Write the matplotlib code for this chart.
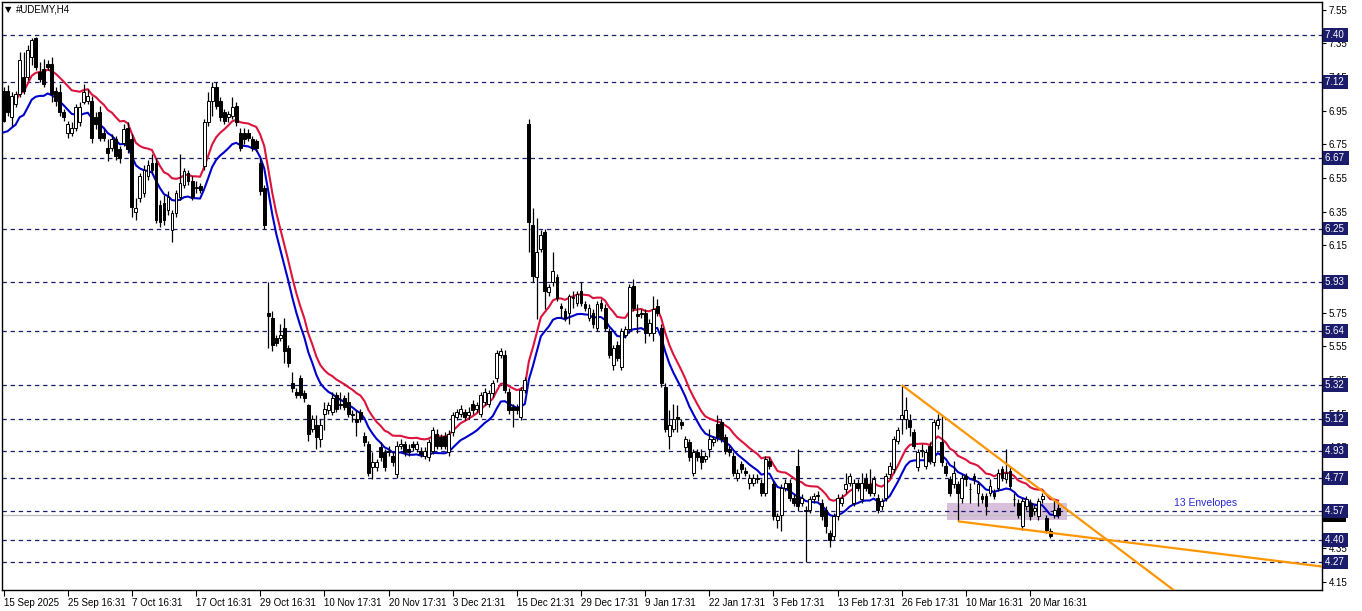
import matplotlib
matplotlib.use("Agg")
import matplotlib.pyplot as plt
import matplotlib.transforms as mtransforms
from matplotlib.patches import Rectangle
import numpy as np
import pandas as pd

plt.rcParams["font.family"] = ["Liberation Sans", "DejaVu Sans"]

# ---------------- data (H4 candles, #UDEMY) ----------------
opens = [
    7.07, 7.07, 6.91, 6.99, 7.05, 7.15, 7.15, 7.27, 7.38, 7.18,
    7.20, 7.23, 7.23, 7.07, 7.06, 6.94, 6.82, 6.82, 6.85, 6.88,
    7.00, 7.01, 7.01, 6.91, 6.94, 6.82, 6.73, 6.73, 6.78, 6.72,
    6.76, 6.85, 6.78, 6.35, 6.43, 6.46, 6.56, 6.64, 6.64, 6.39,
    6.40, 6.36, 6.24, 6.34, 6.44, 6.51, 6.58, 6.53, 6.49, 6.50,
    6.62, 6.88, 7.01, 7.09, 7.01, 6.94, 6.91, 6.92, 6.98, 6.82,
    6.82, 6.82, 6.78, 6.77, 6.64, 6.49, 5.75, 5.72, 5.60, 5.60,
    5.66, 5.54, 5.33, 5.28, 5.36, 5.27, 5.20, 5.06, 5.08, 5.00,
    5.15, 5.17, 5.16, 5.26, 5.21, 5.24, 5.22, 5.14, 5.12, 5.16,
    5.02, 4.97, 4.83, 4.83, 4.95, 4.92, 4.93, 4.90, 4.79, 4.96,
    4.97, 4.94, 4.97, 4.94, 4.93, 4.90, 4.89, 4.93, 5.03, 5.01,
    5.02, 4.92, 5.04, 5.13, 5.15, 5.16, 5.14, 5.21, 5.18, 5.15,
    5.22, 5.21, 5.27, 5.36, 5.50, 5.50, 5.28, 5.19, 5.19, 5.13,
    5.29, 6.87, 6.27, 5.96, 6.13, 6.23, 5.87, 5.93, 5.96, 5.79,
    5.76, 5.75, 5.84, 5.81, 5.88, 5.80, 5.72, 5.75, 5.66, 5.81,
    5.78, 5.64, 5.44, 5.56, 5.43, 5.62, 5.65, 5.91, 5.74, 5.75,
    5.75, 5.63, 5.63, 5.79, 5.66, 5.31, 5.02, 5.06, 5.13, 5.10,
    4.95, 4.98, 4.80, 4.92, 4.90, 4.88, 4.94, 4.98, 5.09, 5.10,
    5.01, 4.94, 4.90, 4.77, 4.85, 4.81, 4.74, 4.74, 4.77, 4.74,
    4.68, 4.87, 4.73, 4.52, 4.55, 4.71, 4.74, 4.65, 4.84, 4.62,
    4.58, 4.58, 4.64, 4.66, 4.62, 4.58, 4.44, 4.42, 4.54, 4.62,
    4.70, 4.74, 4.62, 4.74, 4.64, 4.76, 4.73, 4.68, 4.65, 4.60,
    4.65, 4.79, 4.82, 4.99, 5.12, 5.12, 5.11, 5.04, 4.83, 4.93,
    4.84, 4.96, 4.86, 5.08, 4.98, 4.84, 4.76, 4.73, 4.73, 4.65,
    4.78, 4.70, 4.78, 4.68, 4.66, 4.66, 4.68, 4.68, 4.71, 4.82,
    4.76, 4.81, 4.64, 4.62, 4.48, 4.60, 4.62, 4.57, 4.54, 4.64,
    4.53, 4.45, 4.55, 4.59,
]
highs = [
    7.09, 7.10, 7.06, 7.07, 7.30, 7.30, 7.34, 7.38, 7.39, 7.24,
    7.26, 7.25, 7.27, 7.09, 7.11, 6.96, 6.89, 6.88, 6.99, 7.00,
    7.11, 7.08, 7.04, 6.94, 6.98, 6.84, 6.78, 6.81, 6.80, 6.74,
    6.87, 6.88, 6.81, 6.43, 6.58, 6.63, 6.66, 6.69, 6.67, 6.42,
    6.45, 6.47, 6.36, 6.48, 6.69, 6.61, 6.60, 6.56, 6.53, 6.52,
    6.90, 7.06, 7.12, 7.12, 7.03, 6.96, 6.95, 7.03, 7.00, 6.85,
    6.85, 6.84, 6.80, 6.78, 6.67, 6.51, 5.93, 5.76, 5.62, 5.68,
    5.72, 5.56, 5.40, 5.30, 5.38, 5.29, 5.21, 5.14, 5.14, 5.12,
    5.22, 5.22, 5.28, 5.28, 5.28, 5.26, 5.28, 5.17, 5.17, 5.18,
    5.04, 4.99, 4.92, 4.88, 4.98, 4.94, 4.96, 4.92, 4.99, 5.00,
    4.99, 4.97, 4.99, 4.99, 4.95, 4.95, 5.00, 5.07, 5.06, 5.03,
    5.04, 5.05, 5.16, 5.18, 5.20, 5.18, 5.19, 5.23, 5.22, 5.28,
    5.30, 5.29, 5.35, 5.53, 5.54, 5.53, 5.30, 5.21, 5.21, 5.31,
    5.37, 6.90, 6.37, 6.31, 6.24, 6.25, 5.92, 6.11, 5.98, 5.81,
    5.78, 5.86, 5.88, 5.88, 5.93, 5.82, 5.80, 5.77, 5.82, 5.83,
    5.80, 5.66, 5.56, 5.58, 5.66, 5.67, 5.92, 5.95, 5.80, 5.77,
    5.77, 5.71, 5.85, 5.83, 5.68, 5.33, 5.17, 5.21, 5.20, 5.12,
    5.02, 5.00, 4.94, 4.94, 4.94, 4.92, 5.06, 5.02, 5.14, 5.12,
    5.03, 4.96, 4.92, 4.82, 4.87, 4.83, 4.79, 4.79, 4.79, 4.76,
    4.90, 4.89, 4.75, 4.56, 4.73, 4.76, 4.76, 4.67, 4.94, 4.67,
    4.60, 4.66, 4.68, 4.69, 4.64, 4.60, 4.46, 4.56, 4.67, 4.67,
    4.80, 4.80, 4.76, 4.76, 4.80, 4.80, 4.82, 4.78, 4.67, 4.65,
    4.80, 4.86, 5.02, 5.07, 5.32, 5.25, 5.15, 5.06, 4.94, 4.97,
    4.94, 4.98, 5.12, 5.15, 5.14, 4.86, 4.78, 4.87, 4.75, 4.79,
    4.80, 4.74, 4.80, 4.75, 4.68, 4.68, 4.76, 4.70, 4.82, 4.84,
    4.94, 4.83, 4.68, 4.64, 4.65, 4.66, 4.64, 4.61, 4.65, 4.68,
    4.55, 4.47, 4.64, 4.62,
]
lows = [
    6.88, 6.92, 6.86, 6.97, 7.03, 7.05, 7.13, 7.22, 7.19, 7.12,
    7.09, 7.19, 7.00, 6.98, 6.92, 6.89, 6.79, 6.80, 6.83, 6.86,
    6.99, 6.99, 6.76, 6.84, 6.77, 6.77, 6.65, 6.71, 6.66, 6.64,
    6.74, 6.70, 6.32, 6.30, 6.41, 6.44, 6.54, 6.58, 6.28, 6.26,
    6.27, 6.33, 6.17, 6.32, 6.42, 6.49, 6.51, 6.42, 6.46, 6.46,
    6.60, 6.86, 6.92, 6.96, 6.89, 6.87, 6.88, 6.90, 6.86, 6.71,
    6.75, 6.77, 6.71, 6.71, 6.45, 6.25, 5.54, 5.52, 5.55, 5.58,
    5.45, 5.43, 5.28, 5.24, 5.24, 5.22, 4.99, 5.04, 4.94, 4.95,
    5.05, 5.15, 5.14, 5.16, 5.18, 5.17, 5.13, 5.10, 5.02, 5.10,
    4.96, 4.78, 4.76, 4.81, 4.87, 4.81, 4.90, 4.84, 4.77, 4.94,
    4.90, 4.90, 4.93, 4.92, 4.89, 4.88, 4.87, 4.91, 4.94, 4.94,
    4.94, 4.90, 5.02, 5.11, 5.13, 5.11, 5.12, 5.15, 5.16, 5.13,
    5.20, 5.19, 5.25, 5.34, 5.48, 5.27, 5.15, 5.07, 5.15, 5.11,
    5.27, 6.11, 5.93, 5.71, 6.11, 5.77, 5.85, 5.91, 5.82, 5.72,
    5.70, 5.68, 5.78, 5.79, 5.79, 5.76, 5.70, 5.66, 5.64, 5.76,
    5.64, 5.48, 5.41, 5.46, 5.41, 5.60, 5.63, 5.76, 5.63, 5.72,
    5.57, 5.61, 5.58, 5.73, 5.31, 5.04, 4.94, 5.04, 5.04, 5.06,
    4.92, 4.87, 4.78, 4.87, 4.82, 4.86, 4.89, 4.96, 4.99, 4.98,
    4.91, 4.90, 4.78, 4.75, 4.80, 4.78, 4.70, 4.72, 4.74, 4.66,
    4.66, 4.82, 4.52, 4.47, 4.45, 4.69, 4.63, 4.60, 4.57, 4.60,
    4.27, 4.56, 4.62, 4.63, 4.52, 4.44, 4.36, 4.40, 4.52, 4.60,
    4.68, 4.72, 4.60, 4.69, 4.62, 4.69, 4.66, 4.66, 4.56, 4.58,
    4.63, 4.77, 4.80, 4.97, 5.03, 5.06, 5.02, 4.94, 4.81, 4.89,
    4.82, 4.85, 4.84, 5.06, 4.84, 4.78, 4.66, 4.71, 4.51, 4.62,
    4.72, 4.62, 4.73, 4.60, 4.62, 4.55, 4.66, 4.64, 4.69, 4.75,
    4.74, 4.70, 4.60, 4.53, 4.46, 4.58, 4.52, 4.55, 4.52, 4.62,
    4.44, 4.41, 4.53, 4.53,
]
closes = [
    6.89, 6.94, 7.04, 7.05, 7.25, 7.07, 7.31, 7.37, 7.21, 7.14,
    7.11, 7.21, 7.05, 7.01, 6.94, 6.91, 6.87, 6.85, 6.97, 6.97,
    7.06, 7.04, 6.79, 6.87, 6.79, 6.79, 6.70, 6.78, 6.68, 6.67,
    6.84, 6.72, 6.38, 6.37, 6.56, 6.60, 6.63, 6.60, 6.30, 6.29,
    6.30, 6.44, 6.34, 6.46, 6.52, 6.59, 6.53, 6.44, 6.49, 6.48,
    6.88, 7.01, 7.09, 6.98, 6.91, 6.89, 6.93, 6.97, 6.88, 6.73,
    6.78, 6.79, 6.73, 6.73, 6.47, 6.27, 5.73, 5.56, 5.57, 5.62,
    5.52, 5.45, 5.30, 5.26, 5.26, 5.24, 5.03, 5.12, 5.01, 5.08,
    5.18, 5.20, 5.24, 5.18, 5.20, 5.19, 5.15, 5.15, 5.10, 5.12,
    4.98, 4.80, 4.86, 4.86, 4.89, 4.83, 4.92, 4.86, 4.96, 4.97,
    4.92, 4.92, 4.95, 4.97, 4.91, 4.93, 4.98, 5.05, 4.96, 4.96,
    4.96, 5.03, 5.14, 5.16, 5.18, 5.13, 5.16, 5.17, 5.20, 5.26,
    5.28, 5.27, 5.33, 5.51, 5.52, 5.29, 5.17, 5.17, 5.17, 5.29,
    5.35, 6.29, 5.97, 6.11, 6.21, 5.88, 5.90, 6.00, 5.84, 5.78,
    5.72, 5.85, 5.84, 5.86, 5.81, 5.78, 5.78, 5.68, 5.80, 5.78,
    5.66, 5.50, 5.54, 5.48, 5.64, 5.65, 5.90, 5.78, 5.73, 5.74,
    5.63, 5.69, 5.77, 5.75, 5.33, 5.06, 5.08, 5.12, 5.12, 5.08,
    5.00, 4.89, 4.92, 4.89, 4.86, 4.90, 5.00, 5.00, 5.01, 5.00,
    4.93, 4.92, 4.80, 4.80, 4.82, 4.80, 4.77, 4.77, 4.76, 4.68,
    4.88, 4.84, 4.54, 4.54, 4.71, 4.74, 4.65, 4.62, 4.60, 4.65,
    4.57, 4.64, 4.66, 4.66, 4.54, 4.48, 4.40, 4.54, 4.65, 4.65,
    4.73, 4.78, 4.74, 4.71, 4.74, 4.71, 4.68, 4.76, 4.58, 4.63,
    4.78, 4.84, 5.00, 5.05, 5.14, 5.17, 5.07, 4.96, 4.92, 4.93,
    4.92, 4.87, 5.10, 5.11, 4.86, 4.80, 4.68, 4.80, 4.68, 4.77,
    4.76, 4.70, 4.76, 4.73, 4.64, 4.60, 4.72, 4.66, 4.80, 4.77,
    4.80, 4.72, 4.64, 4.55, 4.63, 4.64, 4.54, 4.59, 4.63, 4.66,
    4.46, 4.42, 4.58, 4.55,
]

date_labels = ["15 Sep 2025", "25 Sep 16:31", "7 Oct 16:31", "17 Oct 16:31",
               "29 Oct 16:31", "10 Nov 17:31", "20 Nov 17:31", "3 Dec 21:31",
               "15 Dec 21:31", "29 Dec 17:31", "9 Jan 17:31", "22 Jan 17:31",
               "3 Feb 17:31", "13 Feb 17:31", "26 Feb 17:31", "10 Mar 16:31",
               "20 Mar 16:31"]
label_step = 16

price_ticks = [7.55, 7.35, 7.15, 6.95, 6.75, 6.55, 6.35, 6.15, 5.95, 5.75,
               5.55, 5.35, 5.15, 4.95, 4.75, 4.55, 4.35, 4.15]
levels = [7.40, 7.12, 6.67, 6.25, 5.93, 5.64, 5.32, 5.12, 4.93, 4.77, 4.57, 4.40, 4.27]
bid_price = 4.55

env_period = 13
env_deviation = 0.01

# drawn objects (bar index, price anchors)
trend_upper = [(224, 5.32), (258.5, 4.70)]
trend_lower = [(238, 4.51), (261, 4.442)]
zone = {"x0": 235.3, "x1": 265.2, "p0": 4.52, "p1": 4.62}
legend_anchor = (292, 4.62)

# ---------------- figure ----------------
W, H = 1362, 611
fig = plt.figure(figsize=(W / 100, H / 100), dpi=100)
fig.patch.set_facecolor("white")
ax = fig.add_axes([2 / W, 1 - 590 / H, 1320 / W, 588 / H])
ax.set_facecolor("white")
XMIN, XMAX = -0.4, 328.8
ax.set_xlim(XMIN, XMAX)
ax.set_ylim(4.102, 7.596)

n = len(closes)
x = np.arange(n)
o = np.array(opens); h = np.array(highs); l = np.array(lows); c = np.array(closes)

# zone rectangle (background)
ax.add_patch(Rectangle((zone["x0"], zone["p0"]), zone["x1"] - zone["x0"],
                       zone["p1"] - zone["p0"], facecolor="#d8c0dc",
                       edgecolor="none", zorder=0.5))

# level lines
navy = "#1c1c6c"
for lv in levels:
    ax.axhline(lv, color=navy, lw=0.9, ls=(0, (3.5, 3.0)), zorder=1)
ax.axhline(bid_price, color="#c0c0c0", lw=1.0, zorder=1)

# envelopes (exponential MA)
ma = pd.Series(c).ewm(span=env_period, adjust=False).mean().values
ax.plot(x, ma * (1 + env_deviation), color="#dc143c", lw=1.5, zorder=3)
ax.plot(x, ma * (1 - env_deviation), color="#0000cd", lw=1.5, zorder=3)

# candles
ax.vlines(x, l, h, color="black", lw=0.9, zorder=4)
bull = c >= o
body_lo = np.minimum(o, c)
body_h = np.maximum(np.abs(c - o), 0.004)
ax.bar(x, body_h, bottom=body_lo, width=0.72,
       color=np.where(bull, "white", "black"), edgecolor="black",
       linewidth=0.7, zorder=5)

# trend lines (rays to the right)
for (x1, y1), (x2, y2) in (trend_upper, trend_lower):
    slope = (y2 - y1) / (x2 - x1)
    xs = np.array([x1, XMAX])
    ax.plot(xs, y1 + slope * (xs - x1), color="#ff9500", lw=1.6, zorder=6,
            solid_capstyle="butt")

ax.text(legend_anchor[0], legend_anchor[1], "13 Envelopes", color="#2a2ad0",
        fontsize=7.5, va="center", ha="left", zorder=7)

# axes styling
for s in ax.spines.values():
    s.set_color("black")
    s.set_linewidth(1.0)
ax.yaxis.tick_right()
ax.set_yticks(price_ticks)
ax.set_yticklabels([f"{t:.2f}" for t in price_ticks])
ax.tick_params(axis="y", direction="out", length=3, width=0.8, labelsize=7,
               pad=2, colors="black")
ticks = list(range(0, n, label_step))[:len(date_labels)]
ax.set_xticks(ticks)
ax.set_xticklabels(date_labels[:len(ticks)])
for lab in ax.get_xticklabels():
    lab.set_horizontalalignment("left")
ax.tick_params(axis="x", direction="out", length=4, width=0.8, labelsize=7,
               pad=2, colors="black")

# price labels on the right scale
blend = mtransforms.blended_transform_factory(ax.transAxes, ax.transData)
ax.text(1.0022, bid_price, f"{bid_price:.2f}", transform=blend, color="white",
        fontsize=7, va="center", ha="left", clip_on=False, zorder=8,
        bbox=dict(boxstyle="square,pad=0.2", fc="black", ec="none"))
for lv in levels:
    ax.text(1.0022, lv, f"{lv:.2f} ", transform=blend, color="white",
            fontsize=7, va="center", ha="left", clip_on=False, zorder=9,
            bbox=dict(boxstyle="square,pad=0.2", fc=navy, ec="none"))

# header
fig.text(5 / W, 1 - 10 / H, "\u25bc", fontsize=6, va="center", ha="left",
         family="DejaVu Sans")
fig.text(16 / W, 1 - 10 / H, "#UDEMY,H4", fontsize=7, va="center", ha="left")

fig.savefig("out.png", dpi=100, facecolor="white")
